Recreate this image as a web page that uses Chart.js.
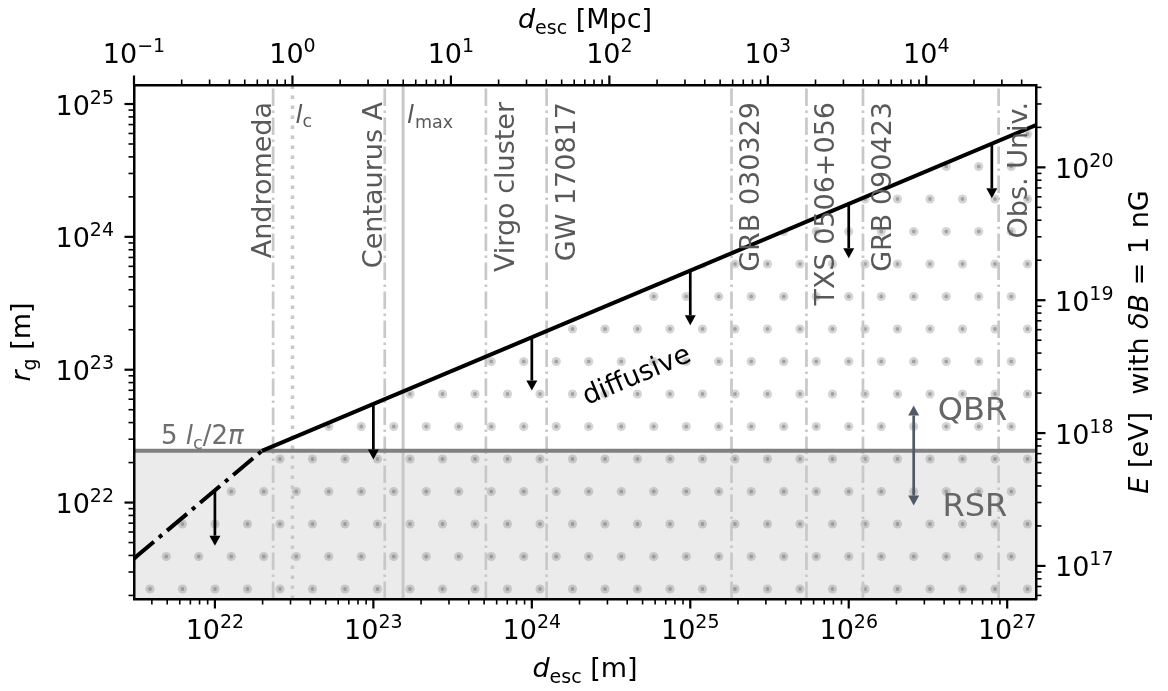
<!DOCTYPE html>
<html>
<head>
<meta charset="utf-8">
<script src="https://cdn.jsdelivr.net/npm/chart.js"></script>
<style>
	body { margin: 0; background: #fff; }
	#wrap { width: 1168px; height: 691px; }
</style>
</head>
<body>
<div id="wrap"><canvas id="chart"></canvas></div>
<script>
// unit conversions for the secondary axes
const MPC = 3.0857e22;          // metres per Mpc
const EV_PER_M = 2.998e-5;      // E[eV] = r_g[m] * c * (1 nG)

// axis limits (metres)
const xMin = 3.0857e21, xMax = 1.52e27;
const yMin = 1.88e21, yMax = 1.39e25;

// maximal gyroradius: dash-dot part (below 5 l_c/2pi) and diffusive part
const rectX = [3.0857e21, 1.98e22];
const rectR = [3.8e21, 2.45e22];
const diffX = [1.98e22, 1.52e27];
const diffR = [2.45e22, 6.95e24];

// QBR / RSR boundary, 5 l_c / 2 pi
const boundR = 2.45e22;

// sources
const srcNames = ['Andromeda', 'Centaurus A', 'Virgo cluster', 'GW 170817', 'GRB 030329', 'TXS 0506+056', 'GRB 090423', 'Obs. Univ.'];
const srcDist = [2.33e22, 1.18e23, 5.13e23, 1.24e24, 1.82e25, 5.41e25, 1.23e26, 8.83e26];
const srcSide = ['left', 'left', 'right', 'right', 'right', 'right', 'right', 'right'];
const lcDist = 3.0857e22;
const lmaxDist = 1.54e23;

// downward arrows from the limit line
const arrowX = [1e22, 1e23, 1e24, 1e25, 1e26, 8e26];
const arrowFrom = [1.24e22, 5.5e22, 1.74e23, 5.5e23, 1.74e24, 4.93e24];
const arrowTo = [4.74e21, 2.11e22, 6.98e22, 2.16e23, 6.9e23, 1.95e24];

// QBR <-> RSR double arrow
const dblX = 2.57e26, dblTop = 5.38e22, dblBottom = 9.5e21;

const FONT = '"DejaVu Sans"';
const pts = (xs, ys) => xs.map((x, i) => ({x: x, y: ys[i]}));

const ctx = document.getElementById('chart').getContext('2d');

// dotted hatch pattern for the region below the limit line
function dotPattern() {
	const c = document.createElement('canvas');
	c.width = 65; c.height = 65;
	const g = c.getContext('2d');
	const centers = [[20, 4], [52.5, 4], [36.25, 36.5], [3.75, 36.5]];
	centers.forEach(([cx, cy]) => {
		[-65, 0, 65].forEach(ox => [-65, 0, 65].forEach(oy => {
			g.fillStyle = 'rgba(128,128,128,0.33)';
			g.beginPath(); g.arc(cx + ox, cy + oy, 4.6, 0, 2 * Math.PI); g.fill();
			g.fillStyle = 'rgba(100,100,100,0.45)';
			g.beginPath(); g.arc(cx + ox, cy + oy, 1.9, 0, 2 * Math.PI); g.fill();
		}));
	});
	return ctx.createPattern(c, 'repeat');
}

function logTicks(min, max) {
	const out = [];
	for (let n = Math.floor(Math.log10(min)) - 1; n <= Math.ceil(Math.log10(max)); n++) {
		for (let m = 1; m <= 9; m++) {
			const v = m * Math.pow(10, n);
			if (v >= min * (1 - 1e-9) && v <= max * (1 + 1e-9)) out.push({value: v, major: m === 1, exp: n});
		}
	}
	return out;
}

function axis(position, min, max, size) {
	const horiz = position === 'top' || position === 'bottom';
	return {
		type: 'logarithmic', position: position, min: min, max: max,
		grid: {display: false, drawTicks: false},
		border: {display: true, color: '#000', width: 2.5, z: 1},
		ticks: {display: false},
		afterBuildTicks: s => { s.ticks = logTicks(min, max); },
		afterFit: s => { if (horiz) s.height = size; else s.width = size; }
	};
}

function fontOf(p) {
	return (p[2] ? 'italic ' : '') + p[1] + 'px ' + FONT;
}

// draw a run of text pieces [text, size, italic, dy]
function runs(c, parts, x, y, align) {
	let w = 0;
	parts.forEach(p => { c.font = fontOf(p); w += c.measureText(p[0]).width; });
	let cx = align === 'center' ? x - w / 2 : align === 'right' ? x - w : x;
	c.textAlign = 'left';
	c.textBaseline = 'alphabetic';
	parts.forEach(p => {
		c.font = fontOf(p);
		c.fillText(p[0], cx, y + (p[3] || 0));
		cx += c.measureText(p[0]).width;
	});
}

function expLabel(n) {
	return [['10', 27], [String(n).replace('-', '\u2212'), 19, false, -11]];
}

function arrow(c, x, y0, y1, color, both) {
	const h = 10, hw = 5.5, dir = Math.sign(y1 - y0);
	c.strokeStyle = color; c.fillStyle = color; c.lineWidth = 2.7;
	c.beginPath();
	c.moveTo(x, both ? y0 + dir * h : y0);
	c.lineTo(x, y1 - dir * h);
	c.stroke();
	const head = (yt, d) => {
		c.beginPath();
		c.moveTo(x, yt);
		c.lineTo(x - hw, yt - d * h);
		c.lineTo(x + hw, yt - d * h);
		c.closePath();
		c.fill();
	};
	head(y1, dir);
	if (both) head(y0, -dir);
}

const annotations = {
	id: 'annotations',
	afterDatasetsDraw(chart) {
		const c = chart.ctx, sx = chart.scales.x, sy = chart.scales.y, ca = chart.chartArea;
		c.save();

		// source labels along the vertical lines
		c.fillStyle = '#595959';
		srcNames.forEach((name, i) => {
			const px = sx.getPixelForValue(srcDist[i]);
			const bx = srcSide[i] === 'left' ? px - 2.5 : px + 28;
			c.save();
			c.translate(bx, ca.top + 17);
			c.rotate(-Math.PI / 2);
			runs(c, [[name, 27]], 0, 0, 'right');
			c.restore();
		});
		runs(c, [['l', 25, true], ['c', 17.5, false, 4]], sx.getPixelForValue(lcDist) + 3, ca.top + 38, 'left');
		runs(c, [['l', 25, true], [' ', 3], ['max', 17.5, false, 5]], sx.getPixelForValue(lmaxDist) + 4, ca.top + 38, 'left');

		// 5 l_c / 2 pi
		c.fillStyle = '#6e6e6e';
		runs(c, [['5 ', 26], ['l', 26, true], ['c', 18, false, 5], ['/2', 26], ['\u03c0', 26, true]],
			sx.getPixelForValue(4.56e21), sy.getPixelForValue(2.78e22), 'left');

		// QBR / RSR
		c.fillStyle = '#666666';
		runs(c, [['QBR', 32]], sx.getPixelForValue(1e27), sy.getPixelForValue(4.15e22), 'right');
		runs(c, [['RSR', 32]], sx.getPixelForValue(1e27), sy.getPixelForValue(7.98e21), 'right');

		// diffusive, rotated along the line
		const ang = Math.atan2(sy.getPixelForValue(diffR[1]) - sy.getPixelForValue(diffR[0]),
			sx.getPixelForValue(diffX[1]) - sx.getPixelForValue(diffX[0]));
		c.save();
		c.translate(sx.getPixelForValue(4.8e24), sy.getPixelForValue(7.96e22));
		c.rotate(ang);
		c.fillStyle = '#000';
		runs(c, [['diffusive', 27]], 0, 0, 'center');
		c.restore();

		// arrows
		arrowX.forEach((x, i) => {
			arrow(c, sx.getPixelForValue(x), sy.getPixelForValue(arrowFrom[i]), sy.getPixelForValue(arrowTo[i]), '#000', false);
		});
		arrow(c, sx.getPixelForValue(dblX), sy.getPixelForValue(dblTop), sy.getPixelForValue(dblBottom), '#505a66', true);

		c.restore();
	},
	afterDraw(chart) {
		const c = chart.ctx, ca = chart.chartArea;
		c.save();
		c.strokeStyle = '#000';
		c.fillStyle = '#000';
		['x', 'xTop', 'y', 'yR'].forEach(id => {
			const s = chart.scales[id];
			s.ticks.forEach(t => {
				const p = s.getPixelForValue(t.value);
				const len = t.major ? 9.5 : 5.5;
				c.lineWidth = t.major ? 2.2 : 1.6;
				c.beginPath();
				if (id === 'x') { c.moveTo(p, ca.bottom); c.lineTo(p, ca.bottom + len); }
				if (id === 'xTop') { c.moveTo(p, ca.top); c.lineTo(p, ca.top - len); }
				if (id === 'y') { c.moveTo(ca.left, p); c.lineTo(ca.left - len, p); }
				if (id === 'yR') { c.moveTo(ca.right, p); c.lineTo(ca.right + len, p); }
				c.stroke();
				if (!t.major) return;
				const lab = expLabel(t.exp);
				if (id === 'x') runs(c, lab, p, ca.bottom + 40, 'center');
				if (id === 'xTop') runs(c, lab, p, ca.top - 22, 'center');
				if (id === 'y') runs(c, lab, ca.left - 20, p + 10.5, 'right');
				if (id === 'yR') runs(c, lab, ca.right + 19, p + 10.5, 'left');
			});
		});

		// axis titles
		const mx = (ca.left + ca.right) / 2, my = (ca.top + ca.bottom) / 2;
		runs(c, [['d', 27, true], ['esc', 19, false, 5.5], [' [m]', 27]], mx, ca.bottom + 78, 'center');
		runs(c, [['d', 27, true], ['esc', 19, false, 5.5], [' [Mpc]', 27]], mx, ca.top - 57, 'center');
		c.save();
		c.translate(ca.left - 104, my);
		c.rotate(-Math.PI / 2);
		runs(c, [['r', 27, true], ['g', 19, false, 5.5], [' [m]', 27]], 0, 0, 'center');
		c.restore();
		c.save();
		c.translate(ca.right + 112, my);
		c.rotate(-Math.PI / 2);
		runs(c, [['E', 27, true], [' [eV]  with ', 27], ['\u03b4B', 27, true], [' = 1 nG', 27]], 0, 0, 'center');
		c.restore();
		c.restore();
	}
};

const vLines = srcDist.map(d => ({
	data: pts([d, d], [yMin, yMax]),
	borderColor: '#c8c8c8', borderWidth: 2.7, borderDash: [17.5, 4.4, 2.7, 4.4],
	fill: false, order: 15
}));
vLines.push({data: pts([lcDist, lcDist], [yMin, yMax]), borderColor: '#c8c8c8', borderWidth: 3.5, borderDash: [3.5, 6.5], fill: false, order: 15});
vLines.push({data: pts([lmaxDist, lmaxDist], [yMin, yMax]), borderColor: '#c8c8c8', borderWidth: 3, fill: false, order: 15});

new Chart(ctx, {
	type: 'line',
	data: {
		datasets: [
			{data: pts([xMin, xMax], [boundR, boundR]), fill: 'start', backgroundColor: '#ebebeb', borderWidth: 0, order: 20},
			{data: pts(rectX.concat(diffX.slice(1)), rectR.concat(diffR.slice(1))), fill: 'start', backgroundColor: dotPattern(), borderWidth: 0, order: 19},
			...vLines,
			{data: pts([xMin, xMax], [boundR, boundR]), borderColor: '#808080', borderWidth: 4, fill: false, order: 10},
			{data: pts(rectX, rectR), borderColor: '#000', borderWidth: 4, borderDash: [26, 6.6, 4, 6.6], fill: false, order: 5},
			{data: pts(diffX, diffR), borderColor: '#000', borderWidth: 4, fill: false, order: 5}
		]
	},
	options: {
		responsive: true,
		maintainAspectRatio: false,
		animation: false,
		layout: {padding: 0},
		elements: {point: {radius: 0}, line: {tension: 0}},
		plugins: {legend: {display: false}, tooltip: {enabled: false}},
		scales: {
			x: axis('bottom', xMin, xMax, 92),
			xTop: axis('top', xMin / MPC, xMax / MPC, 85),
			y: axis('left', yMin, yMax, 134),
			yR: axis('right', yMin * EV_PER_M, yMax * EV_PER_M, 132)
		}
	},
	plugins: [annotations]
});
</script>
</body>
</html>
